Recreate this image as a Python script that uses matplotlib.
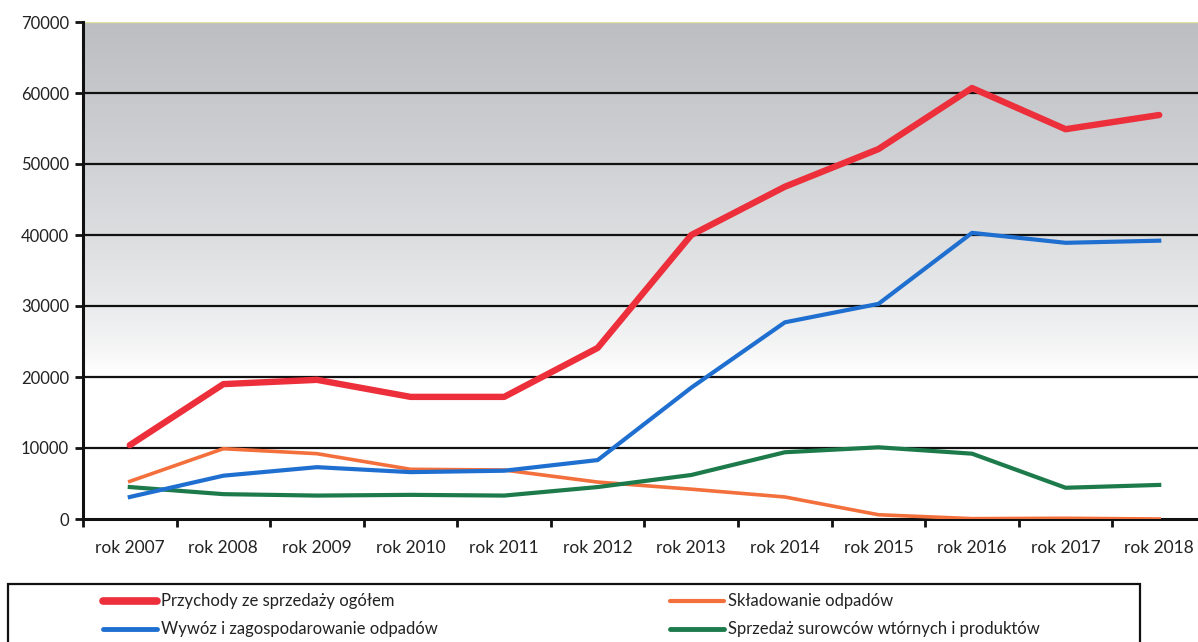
import numpy as np
import matplotlib
matplotlib.use("Agg")
import matplotlib.pyplot as plt
from matplotlib.lines import Line2D
from matplotlib.patches import Rectangle

plt.rcParams['font.family'] = ['Lato', 'DejaVu Sans']

years = ["rok 2007", "rok 2008", "rok 2009", "rok 2010", "rok 2011", "rok 2012",
         "rok 2013", "rok 2014", "rok 2015", "rok 2016", "rok 2017", "rok 2018"]

przychody = [10400, 19000, 19600, 17200, 17200, 24100, 40000, 46800, 52100, 60700, 54900, 56900]
wywoz = [3100, 6100, 7300, 6600, 6800, 8300, 18500, 27700, 30300, 40300, 38900, 39200]
skladowanie = [5300, 9900, 9200, 7000, 6900, 5200, 4200, 3100, 600, 50, 100, 0]
sprzedaz = [4500, 3500, 3300, 3400, 3300, 4500, 6200, 9400, 10100, 9200, 4400, 4800]

labels = ["Przychody ze sprzedaży ogółem", "Wywóz i zagospodarowanie odpadów",
          "Składowanie odpadów", "Sprzedaż surowców wtórnych i produktów"]

W, H = 1198, 642
fig = plt.figure(figsize=(W / 100, H / 100), dpi=100)
# axes right edge is cut off by the figure, like in the scan
ax = fig.add_axes([83 / W, 1 - 519 / H, 1123 / W, (519 - 22) / H])

x = np.arange(len(years))
ax.set_xlim(-0.5, len(years) - 0.5)
ax.set_ylim(0, 70000)

# gray-to-white background gradient
grad = np.linspace(0, 1, 256)
shade = np.clip((grad - 0.3) / 0.7, 0, 1) ** 0.7
bg = np.ones((256, 1, 3))
top = np.array([188, 190, 194]) / 255
for i in range(256):
    bg[i, 0, :] = 1 - shade[i] * (1 - top)
ax.imshow(bg, extent=[-0.5, len(years) - 0.5, 0, 70000], origin='lower',
          aspect='auto', zorder=0)

for yv in range(10000, 70000, 10000):
    ax.axhline(yv, color='#111111', lw=1.6, zorder=1)
ax.axhline(70000, color='#e3e39a', lw=1, zorder=1)

ax.plot(x, skladowanie, color='#f36f3b', lw=2.6, zorder=3)
ax.plot(x, sprzedaz, color='#1d7a4b', lw=3.0, zorder=3)
ax.plot(x, wywoz, color='#1f6fd0', lw=3.0, zorder=4)
ax.plot(x, przychody, color='#ec2f3a', lw=4.6, zorder=5, solid_capstyle='round')

ax.set_yticks(range(0, 70001, 10000))
ax.set_yticklabels([str(v) for v in range(0, 70001, 10000)])
ax.set_xticks(x)
ax.set_xticklabels(years)
ax.set_xticks(np.arange(-0.5, len(years), 1), minor=True)
ax.tick_params(axis='x', which='major', length=0, pad=15, labelsize=12.5, colors='#222222')
ax.tick_params(axis='x', which='minor', length=6, width=2, direction='out', color='#111111')
ax.tick_params(axis='y', length=6, width=2, direction='out', color='#111111',
               labelsize=12, labelcolor='#222222', pad=4)

for s in ['top', 'right']:
    ax.spines[s].set_visible(False)
ax.spines['left'].set_linewidth(2.2)
ax.spines['bottom'].set_linewidth(2.2)
ax.spines['left'].set_color('#111111')
ax.spines['bottom'].set_color('#111111')

# legend box drawn by hand (bottom is cut off in the scan)
fig.add_artist(Rectangle((8 / W, 1 - 660 / H), (1140 - 8) / W, (660 - 584) / H,
                         transform=fig.transFigure, fill=False, edgecolor='#111111', lw=1.6))
leg_colors = ['#ec2f3a', '#1f6fd0', '#f36f3b', '#1d7a4b']
leg_widths = [5.5, 3.5, 3.0, 3.5]
leg_pos = [(103, 601), (103, 629), (670, 601), (670, 629)]
for lab, c, lw, (px, py) in zip(labels, leg_colors, leg_widths, leg_pos):
    fig.add_artist(Line2D([px / W, (px + 54) / W], [1 - py / H, 1 - py / H],
                          color=c, lw=lw, solid_capstyle='round', transform=fig.transFigure))
    fig.text((px + 58) / W, 1 - py / H, lab, fontsize=12, color='#222222',
             va='center', ha='left')

fig.savefig("out.png", dpi=100)
